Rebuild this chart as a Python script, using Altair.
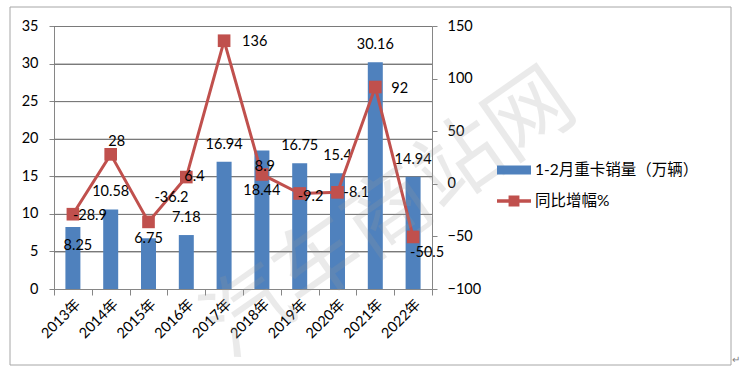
import altair as alt
import pandas as pd

years = ["2013年", "2014年", "2015年", "2016年", "2017年", "2018年", "2019年", "2020年", "2021年", "2022年"]
sales = [8.25, 10.58, 6.75, 7.18, 16.94, 18.44, 16.75, 15.4, 30.16, 14.94]
growth = [-28.9, 28, -36.2, 6.4, 136, 8.9, -9.2, -8.1, 92, -50.5]
left_ticks = [0, 5, 10, 15, 20, 25, 30, 35]
right_ticks = [-100, -50, 0, 50, 100, 150]
bar_series = "1-2月重卡销量（万辆）"
line_series = "同比增幅%"
watermark = "汽车商站网"

df = pd.DataFrame({"year": years, "sales": sales, "growth": growth,
                   "bs": bar_series, "ls": line_series})
grid_df = pd.DataFrame({"g": left_ticks[1:]})

FONT = "Lato, 'Noto Sans CJK SC', sans-serif"
FS = 14.5
BLUE = "#4F81BD"
RED = "#C0504D"
GRID = "#868686"
W, H = 378, 263

# label offset styles (dx, dy, align)
bar_off = {y: (0, -17) for y in years}
bar_off["2013年"] = (5, 19)
bar_off["2015年"] = (0, 1)
bar_off["2018年"] = (0, 41)

line_off = {
    "2013年": ("left", 0, 2),
    "2014年": ("center", 6, -12),
    "2015年": ("center", 23, -24),
    "2016年": ("left", -2, 0),
    "2017年": ("left", 18, 1),
    "2018年": ("center", 3, -7),
    "2019年": ("left", -2, 4),
    "2020年": ("left", 6, 1),
    "2021年": ("left", 16, 2),
    "2022年": ("left", -3, 16),
}

base = alt.Chart(df).transform_calculate(
    slbl="'' + datum.sales", glbl="'' + datum.growth")

x_axis = alt.Axis(labelAngle=-45, labelFont=FONT, labelFontSize=FS,
                  labelColor="black", domainColor=GRID, tickColor=GRID,
                  tickBand="extent", tickSize=6, labelPadding=2)
xenc = alt.X("year:N", sort=years, title=None,
             scale=alt.Scale(paddingInner=0, paddingOuter=0), axis=x_axis)

yl_scale = alt.Scale(domain=[0, 35], nice=False)
yr_scale = alt.Scale(domain=[-100, 150], nice=False)
yl_axis = alt.Axis(values=left_ticks, grid=True, gridColor="#7a7a7a",
                   gridOpacity=1, gridWidth=1,
                   labelOverlap=False, domainColor=GRID, tickColor=GRID,
                   tickSize=5, labelPadding=11, labelFont=FONT,
                   labelFontSize=FS, labelColor="black")
yr_axis = alt.Axis(orient="right", values=right_ticks,
                   labelOverlap=False,
                   grid=False, domainColor=GRID, tickColor=GRID,
                   tickSize=5, labelPadding=10, labelFont=FONT,
                   labelFontSize=FS, labelColor="black")
yl = alt.Y("sales:Q", scale=yl_scale, title=None, axis=yl_axis)
yr = alt.Y("growth:Q", scale=yr_scale, title=None, axis=yr_axis)

leg_common = dict(orient="none", symbolSize=1156, symbolStrokeWidth=0,
                  labelFont=FONT, labelFontSize=15.5, labelColor="black",
                  labelOffset=4, padding=0, labelLimit=400)

gridlines = alt.Chart(grid_df).mark_rule(color="#7a7a7a", strokeWidth=1, yOffset=0.5).encode(
    y=alt.Y("g:Q", scale=yl_scale, title=None, axis=None))

bars = base.mark_bar(size=15).encode(
    x=xenc, y=yl,
    fill=alt.Fill("bs:N", scale=alt.Scale(range=[BLUE]), title=None,
                  legend=alt.Legend(legendX=443, legendY=127,
                                    symbolType="M-1,-0.27H1V0.27H-1Z",
                                    **leg_common)),
)

left_layers = [bars]
for yv in years:
    dx, dy = bar_off[yv]
    left_layers.append(
        base.transform_filter(alt.datum.year == yv)
        .mark_text(dx=dx, dy=dy, font=FONT, fontSize=FS, color="black")
        .encode(x=xenc, y=yl, text=alt.Text("slbl:N"))
    )
left = alt.layer(*left_layers)

line = base.mark_line(strokeWidth=3).encode(
    x=xenc, y=yr,
    stroke=alt.Stroke("ls:N", scale=alt.Scale(range=[RED]), title=None,
                      legend=alt.Legend(legendX=443, legendY=158,
                                        symbolType="M-1,-0.1H1V0.1H-1Z M-0.32,-0.32H0.32V0.32H-0.32Z",
                                        symbolFillColor=RED,
                                        **leg_common)),
)
squares = base.mark_square(size=160, color=RED, opacity=1).encode(x=xenc, y=yr)

right_layers = [line, squares]
for yv in years:
    al, dx, dy = line_off[yv]
    right_layers.append(
        base.transform_filter(alt.datum.year == yv)
        .mark_text(align=al, dx=dx, dy=dy, font=FONT, fontSize=FS, color="black")
        .encode(x=xenc, y=yr, text=alt.Text("glbl:N"))
    )
right = alt.layer(*right_layers)

deco = alt.Chart(alt.Data(values=[{}]))
frame = deco.mark_rect(fill="transparent", stroke="#a6a6a6", strokeWidth=1).encode(
    x=alt.value(-44), x2=alt.value(677), y=alt.value(-19), y2=alt.value(339))
wm = deco.mark_text(text=watermark, font="Noto Sans CJK SC", fontSize=86,
                    angle=325, color="#9a9a9a", opacity=0.2).encode(
    x=alt.value(336), y=alt.value(189))
para = deco.mark_text(text="↵", fontSize=10, color="#808080").encode(
    x=alt.value(682), y=alt.value(334))

chart = alt.layer(frame, gridlines, left, right, wm, para).resolve_scale(
    y="independent", fill="independent", stroke="independent"
).properties(
    width=W, height=H,
    autosize=alt.AutoSizeParams(type="none"),
    padding={"left": 54, "top": 26, "right": 309, "bottom": 87},
    background="white",
).configure_view(stroke=None)

chart.save("out.html", embed_options={"renderer": "svg", "actions": False})
